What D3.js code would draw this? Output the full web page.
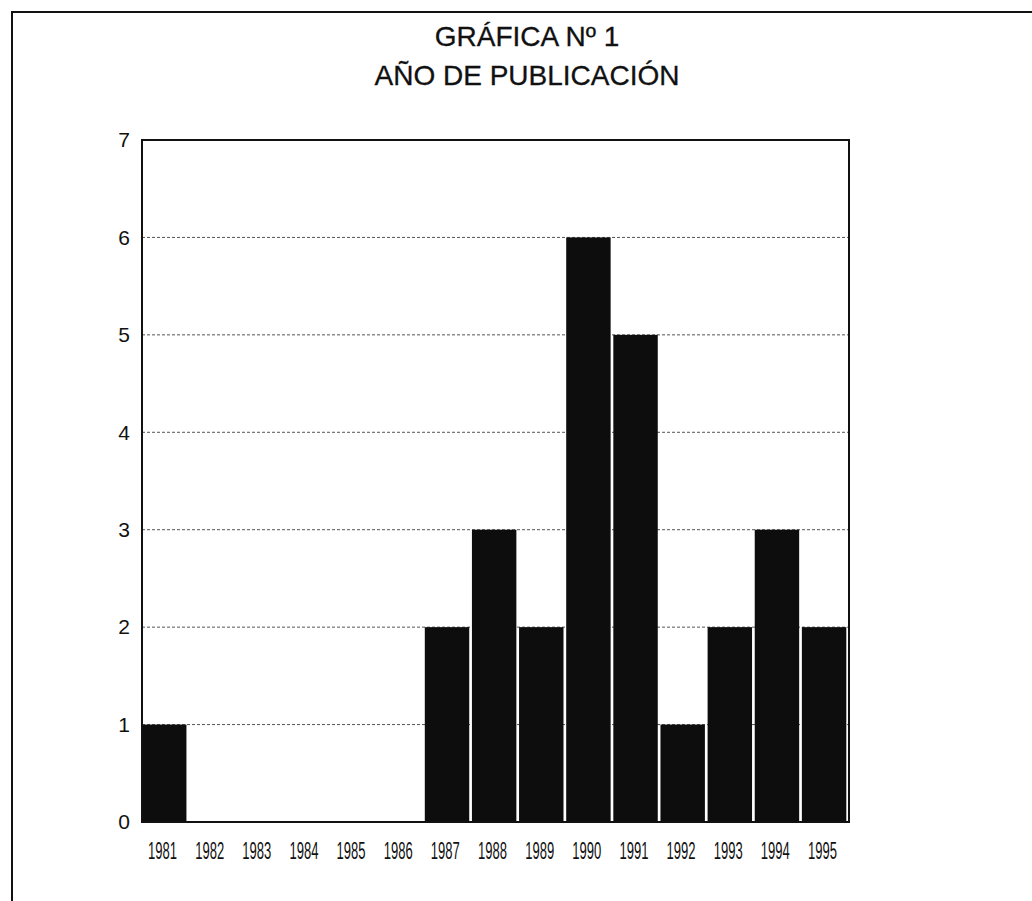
<!DOCTYPE html>
<html><head><meta charset="utf-8">
<script src="https://cdn.jsdelivr.net/npm/d3@7"></script>
<style>body{margin:0;background:#fff}svg{display:block}</style>
</head><body>
<svg id="c" width="1032" height="901"></svg>
<script>
const years = ["1981","1982","1983","1984","1985","1986","1987","1988","1989","1990","1991","1992","1993","1994","1995"];
const counts = [1,0,0,0,0,0,2,3,2,6,5,1,2,3,2];
const yTicks = [0,1,2,3,4,5,6,7];
const titleLines = ["GRÁFICA Nº 1","AÑO DE PUBLICACIÓN"];

const svg = d3.select("#c");
const font = "'Liberation Sans', Arial, sans-serif";
const L = 142, R = 849, T = 140, B = 822;

// outer frame (extends past right/bottom edges)
svg.append("path").attr("d","M12,1000 L12,12 L1100,12")
  .attr("fill","none").attr("stroke","#111").attr("stroke-width",2);

svg.selectAll("text.title").data(titleLines).join("text")
  .attr("class","title")
  .attr("x",527).attr("y",(d,i)=>46+i*39)
  .attr("text-anchor","middle")
  .attr("font-family",font).attr("font-size",28).attr("fill","#111")
  .attr("stroke","#111").attr("stroke-width",0.3)
  .text(d=>d);

const x = d3.scaleBand().domain(years).range([L,R]).padding(0);
const y = d3.scaleLinear().domain([0,7]).range([B,T]);

// gridlines
svg.append("g").selectAll("line").data(yTicks.filter(v=>v>0&&v<7)).join("line")
  .attr("x1",L).attr("x2",R).attr("y1",d=>y(d)).attr("y2",d=>y(d))
  .attr("stroke","#555").attr("stroke-width",1).attr("stroke-dasharray","3,2");

// bars
svg.append("g").selectAll("rect").data(counts).join("rect")
  .attr("x",(d,i)=>x(years[i]))
  .attr("width",x.bandwidth()-2.7)
  .attr("y",d=>y(d))
  .attr("height",d=>B-y(d))
  .attr("fill","#0d0d0d");

// plot box
svg.append("rect").attr("x",L).attr("y",T).attr("width",R-L).attr("height",B-T)
  .attr("fill","none").attr("stroke","#111").attr("stroke-width",2);

// y axis labels
const ya = d3.axisLeft(y).tickValues(yTicks).tickSize(0).tickPadding(12).tickFormat(d3.format("d"));
const gy = svg.append("g").attr("transform",`translate(${L},0)`).call(ya);
gy.select(".domain").remove();
gy.selectAll("text").attr("font-family",font).attr("font-size",21).attr("fill","#111");

// x axis labels
const xa = d3.axisBottom(x).tickSize(0).tickPadding(21);
const gx = svg.append("g").attr("transform",`translate(0,${B})`).call(xa);
gx.select(".domain").remove();
gx.selectAll("text").attr("font-family",font).attr("font-size",23).attr("fill","#111")
  .attr("dx",-3)
  .attr("textLength",29).attr("lengthAdjust","spacingAndGlyphs");
</script>
</body></html>
